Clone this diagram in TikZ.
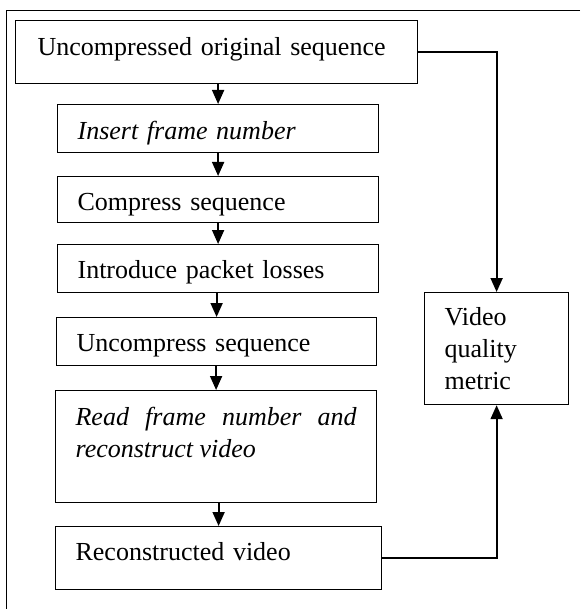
\documentclass[tikz,border=0pt]{standalone}
\usepackage{fontspec}
\setmainfont{Liberation Serif}
\usetikzlibrary{arrows.meta}

\begin{document}
\begin{tikzpicture}[x=0.5pt, y=-0.5pt,
    stepbox/.style={draw, line width=0.6pt, anchor=north west, inner xsep=10pt, inner ysep=0pt, align=left, font=\fontsize{13}{16}\selectfont},
    flow/.style={line width=0.9pt, -{Triangle[width=6pt, length=7pt]}}]
\useasboundingbox (0,0) rectangle (580,609);
% outer frame, cut off at right and bottom
\draw[line width=0.5pt] (580,11) -- (6,11) -- (6,609);

% processing chain
\node[stepbox, inner xsep=11pt, text width=179pt, text height=17.5pt, text depth=14pt] (orig) at (15,20) {Uncompressed original sequence};
\node[stepbox, text width=140.5pt, text height=17.5pt, text depth=6.5pt] (insert) at (57,104) {\itshape Insert frame number};
\node[stepbox, text width=140.5pt, text height=17pt, text depth=6pt] (compress) at (57,176) {Compress sequence};
\node[stepbox, text width=140.5pt, text height=17pt, text depth=7pt] (losses) at (57,244) {Introduce packet losses};
\node[stepbox, text width=140pt, text height=17pt, text depth=7pt] (uncompress) at (56,317) {Uncompress sequence};
\node[stepbox, align=justify, text width=140.5pt, text height=17.5pt, text depth=38.5pt] (readnum) at (55,390) {\itshape\tolerance=9999 Read frame number and \mbox{reconstruct} video};
\node[stepbox, text width=143pt, text height=17pt, text depth=14.5pt] (recon) at (55,526) {Reconstructed video};

% quality measurement
\node[stepbox, text width=52pt, text height=16.5pt, text depth=39.5pt] (metric) at (424,292) {Video\\quality\\metric};

\foreach \a/\b in {orig/insert, insert/compress, compress/losses, losses/uncompress, uncompress/readnum, readnum/recon} {
    \draw[flow] (\b.north |- \a.south) -- (\b.north);
}

\draw[flow] (orig.east) -| (metric.north);
\draw[flow] (recon.east) -| (metric.south);
\end{tikzpicture}
\end{document}
